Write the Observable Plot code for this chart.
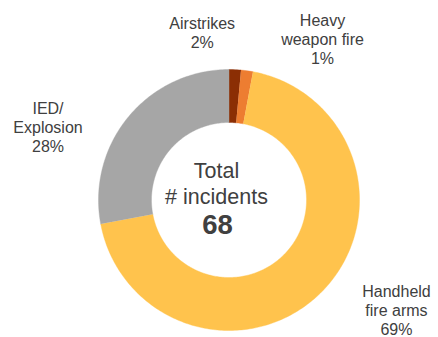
<!DOCTYPE html>
<html><head><meta charset="utf-8">
<script src="https://cdn.jsdelivr.net/npm/d3@7"></script>
<script src="https://cdn.jsdelivr.net/npm/@observablehq/plot@0.6"></script>
<style>body{margin:0;background:#fff;}</style>
</head><body><div id="chart"></div>
<script>
const categories = ["Airstrikes", "Heavy weapon fire", "Handheld fire arms", "IED/ Explosion"];
const incidents = [1, 1, 47, 19];
const labelNames = ["Airstrikes", "Heavy\nweapon fire", "Handheld\nfire arms", "IED/\nExplosion"];
const percentLabels = ["2%", "1%", "69%", "28%"];
const centerLabel = "Total\n# incidents";

// styles / layout (not data)
const colors = ["#8B2E04", "#ED7D31", "#FFC34D", "#A6A6A6"];
const W = 438, H = 337, CX = 228.5, CY = 199.5, R = 130.5;
const innerRatio = 0.594;
const labelOffsets = [[-32.8, -37.2], [75.5, -31.4], [75.2, 17.4], [-80.6, 10.4]]; // px from slice outer-edge midpoint
const textColor = "#404040";
const font = "'Liberation Sans', Arial, Helvetica, sans-serif";

const arcs = d3.pie().sort(null).value(d => d)(incidents);

// polygon points for each ring slice (in unit-radius coordinates)
const ringPoints = [];
arcs.forEach((a, i) => {
  const n = Math.max(4, Math.ceil((a.endAngle - a.startAngle) * 60));
  for (let k = 0; k <= n; k++) {
    const t = a.startAngle + (a.endAngle - a.startAngle) * k / n;
    ringPoints.push({cat: categories[i], x: Math.sin(t), y: Math.cos(t)});
  }
  for (let k = n; k >= 0; k--) {
    const t = a.startAngle + (a.endAngle - a.startAngle) * k / n;
    ringPoints.push({cat: categories[i], x: innerRatio * Math.sin(t), y: innerRatio * Math.cos(t)});
  }
});

const labels = arcs.map((a, i) => {
  const m = (a.startAngle + a.endAngle) / 2;
  return {
    text: labelNames[i] + "\n" + percentLabels[i],
    x: Math.sin(m) + labelOffsets[i][0] / R,
    y: Math.cos(m) - labelOffsets[i][1] / R
  };
});

const total = d3.sum(incidents);

const chart = Plot.plot({
  width: W, height: H,
  margin: 0,
  style: {background: "#fff", fontFamily: font},
  x: {domain: [-1, 1], range: [CX - R, CX + R], axis: null},
  y: {domain: [-1, 1], range: [CY + R, CY - R], axis: null},
  color: {domain: categories, range: colors},
  marks: [
    Plot.line(ringPoints, {x: "x", y: "y", z: "cat", fill: "cat", stroke: "cat", strokeWidth: 0.4, curve: "linear"}),
    Plot.text(labels, {x: "x", y: "y", text: "text", fontSize: 16, lineHeight: 1.19, fill: textColor, textAnchor: "middle", lineAnchor: "middle"}),
    Plot.text([centerLabel], {x: () => 0, y: () => 0, text: d => d, dx: -12.5, dy: -17.2, fontSize: 21.5, lineHeight: 1.22, fill: textColor, textAnchor: "middle", lineAnchor: "middle"}),
    Plot.text([total], {x: () => 0, y: () => 0, text: d => String(d), dx: -11.5, dy: 24.8, fontSize: 27.5, fontWeight: "bold", fill: textColor, textAnchor: "middle", lineAnchor: "middle"})
  ]
});
document.getElementById("chart").appendChild(chart);
</script>
</body></html>
